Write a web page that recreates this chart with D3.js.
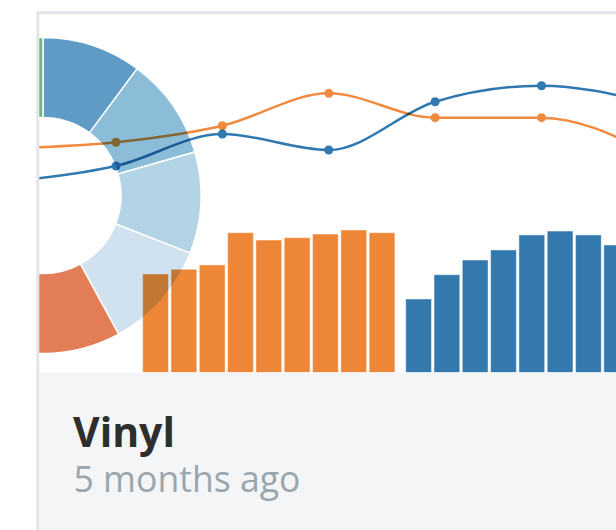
<!DOCTYPE html>
<html lang="en">

<head>
    <meta charset="utf-8">
    <title>Vinyl</title>
    <style>
        body {
            margin: 0;
            background: #fff;
        }

        svg {
            display: block;
        }

        .mark {
            mix-blend-mode: multiply;
        }

        .title {
            font: bold 41px "Open Sans", sans-serif;
            fill: #2e2e2e;
        }

        .sub {
            font: 35.6px "Open Sans", sans-serif;
            fill: #9aa6ae;
        }
    </style>
    <script src="https://cdn.jsdelivr.net/npm/d3@7"></script>
</head>

<body>
    <svg class="card" width="616" height="530"></svg>
    <script>
        // donut slices (only the right half is visible in the card)
        const donutValues = [36.6, 37.4, 37.4, 40, 62, 50, 48.6, 48];
        const donutColors = ["#5e9cc6", "#8bbdd9", "#b3d4e5", "#d0e2ef", "#e27d57", "#c9a3c9", "#f2c46f", "#6db581"];

        // two lines over 7 periods
        const periods = ["p1", "p2", "p3", "p4", "p5", "p6", "p7"];
        const orangeLine = [34.5, 38.5, 49.5, 71.1, 54.9, 54.9, 32.4];
        const blueLine = [12.3, 22.7, 44, 33.3, 65.5, 76.2, 65.2];

        // bars, two groups of nine
        const barGroups = ["orange", "blue"];
        const barSlots = ["b1", "b2", "b3", "b4", "b5", "b6", "b7", "b8", "b9"];
        const orangeBars = [65.7, 68.8, 71.7, 93.2, 88.3, 89.9, 92.3, 95, 93.2];
        const blueBars = [49, 65.2, 75, 81.7, 91.7, 94.3, 91.7, 85, 78];

        const svg = d3.select('.card')

        // card frame
        svg.append('rect')
            .attr('x', 37.8).attr('y', 12.8)
            .attr('width', 700).attr('height', 600)
            .attr('fill', '#fff')
            .attr('stroke', '#e3e5e8')
            .attr('stroke-width', 3)

        svg.append('clipPath').attr('id', 'chartClip')
            .append('rect')
            .attr('x', 0).attr('y', 0)
            .attr('width', 700).attr('height', 358.2)

        svg.append('rect')
            .attr('x', 39.3).attr('y', 372.5)
            .attr('width', 700).attr('height', 200)
            .attr('fill', '#f4f5f7')

        var chart = svg.append('g')
            .attr('transform', 'translate(39.3,14.3)')
            .append('g')
            .attr('clip-path', 'url(#chartClip)')

        // donut
        var pie = d3.pie().sort(null)
        var arc = d3.arc().innerRadius(78).outerRadius(158)
        chart.append('g')
            .attr('transform', 'translate(3.7,181.2)')
            .selectAll('path')
            .data(pie(donutValues))
            .join('path')
            .attr('d', arc)
            .attr('fill', (d, i) => donutColors[i])
            .attr('stroke', '#fff')
            .attr('stroke-width', 1.5)

        // bars
        var x0 = d3.scaleBand().domain(barGroups).range([103.4, 618.6]).paddingInner(0.041)
        var x1 = d3.scaleBand().domain(barSlots).range([0, x0.bandwidth()]).paddingInner(0.09)
        var yBar = d3.scaleLinear().domain([0, 100]).range([358.2, 208.2])
        var barData = [
            { group: 'orange', color: '#ee8638', values: orangeBars },
            { group: 'blue', color: '#3479ae', values: blueBars }
        ]
        chart.selectAll('.bars')
            .data(barData)
            .join('g')
            .attr('class', 'bars')
            .attr('transform', d => `translate(${x0(d.group)},0)`)
            .selectAll('rect')
            .data(d => d.values.map((v, i) => ({ slot: barSlots[i], v: v, color: d.color })))
            .join('rect')
            .attr('class', 'mark')
            .attr('x', d => x1(d.slot))
            .attr('y', d => yBar(d.v))
            .attr('width', x1.bandwidth())
            .attr('height', d => yBar(0) - yBar(d.v))
            .attr('fill', d => d.color)
            .attr('stroke', '#fff')
            .attr('stroke-opacity', 0.45)
            .attr('stroke-width', 1)

        // lines, each series blended as one piece so dots don't darken the line
        var x = d3.scalePoint().domain(periods).range([-29.7, 608.6])
        var y = d3.scaleLinear().domain([0, 100]).range([185.7, 35.7])
        var line = d3.line()
            .x((d, i) => x(periods[i]))
            .y(d => y(d))
            .curve(d3.curveMonotoneX)
        var series = [
            { color: '#f08a3e', values: orangeLine },
            { color: '#2f79b0', values: blueLine }
        ]
        var lg = chart.selectAll('.series')
            .data(series)
            .join('g')
            .attr('class', 'series mark')
        lg.append('path')
            .attr('d', d => line(d.values))
            .attr('fill', 'none')
            .attr('stroke', d => d.color)
            .attr('stroke-width', 2.5)
        lg.selectAll('circle')
            .data(d => d.values.map(v => ({ v: v, color: d.color })))
            .join('circle')
            .attr('cx', (d, i) => x(periods[i]))
            .attr('cy', d => y(d.v))
            .attr('r', 4.5)
            .attr('fill', d => d.color)

        // footer text
        svg.append('text').attr('class', 'title')
            .attr('x', 73).attr('y', 446.7)
            .text('Vinyl')
        svg.append('text').attr('class', 'sub')
            .attr('x', 73.5).attr('y', 491.7)
            .text('5 months ago')
    </script>
</body>

</html>
